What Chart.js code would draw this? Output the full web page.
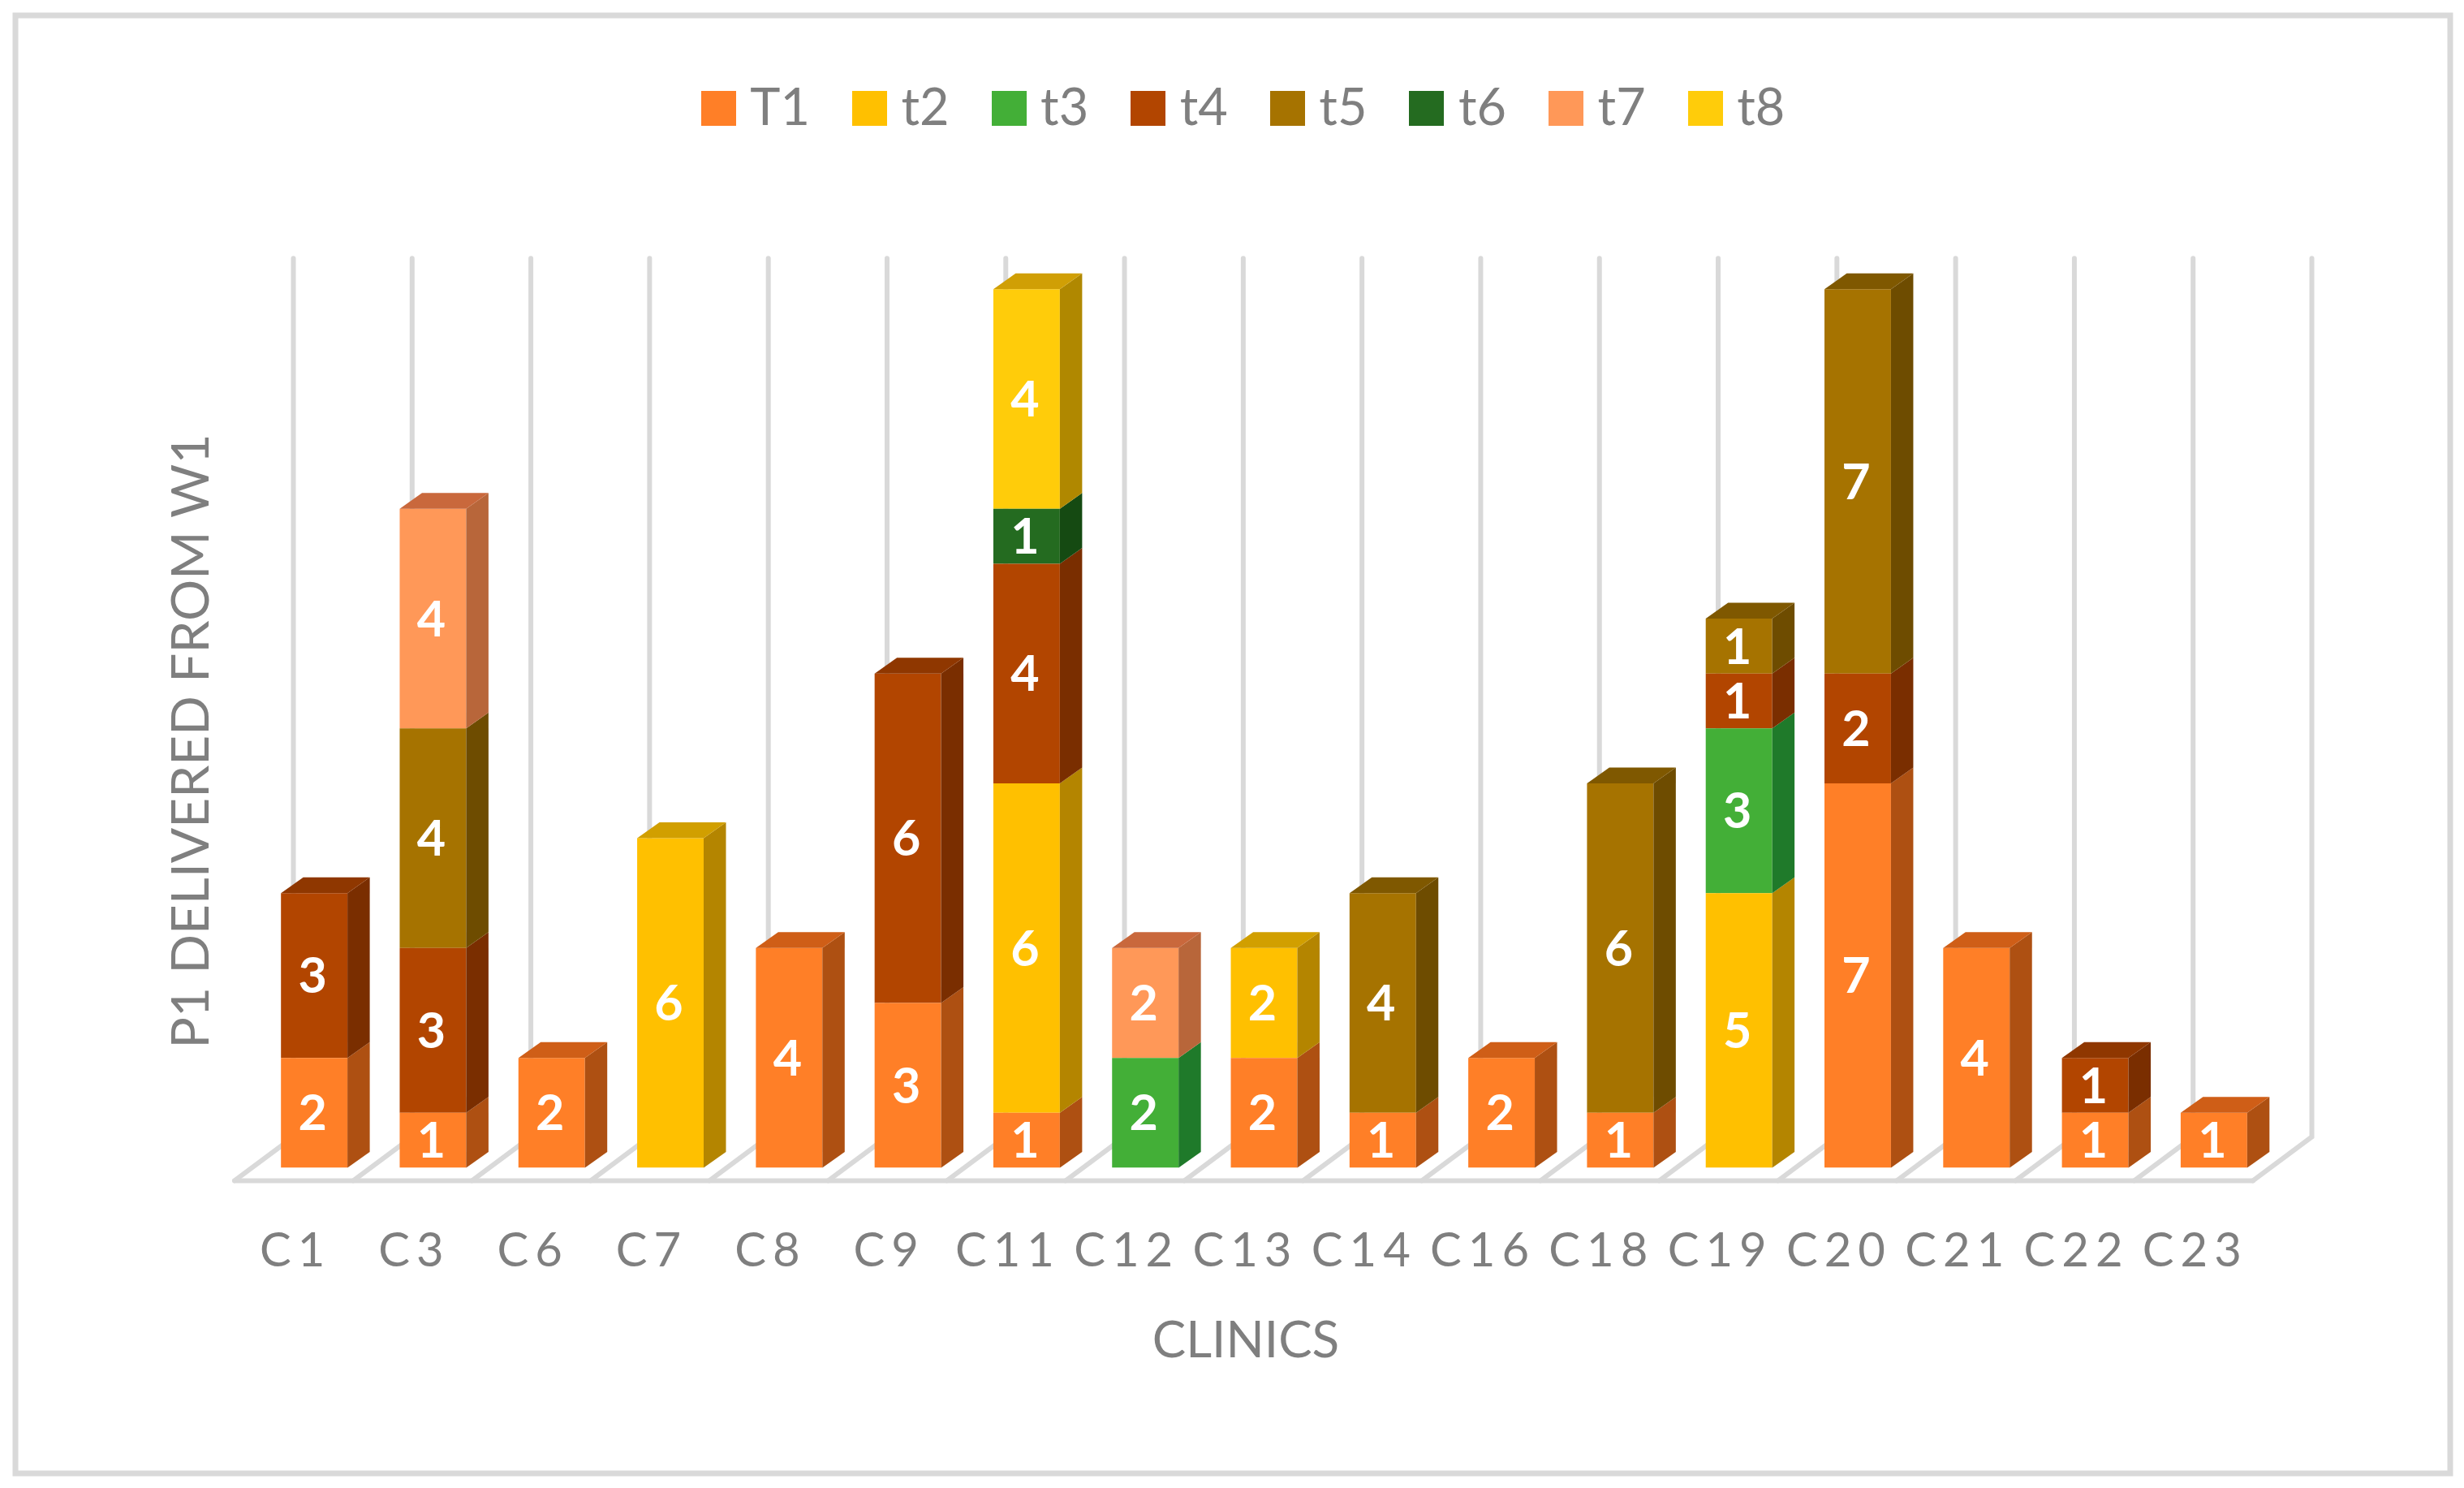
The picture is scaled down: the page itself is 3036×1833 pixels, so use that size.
<!DOCTYPE html>
<html lang="en">
<head>
    <meta charset="UTF-8">
    <title>P1 delivered from W1</title>
    <style>
        html, body { margin: 0; padding: 0; background: #fff; }
        canvas { display: block; }
    </style>
</head>
<body>
    <canvas id="grafico" width="3036" height="1833"></canvas>

    <script src="https://cdn.jsdelivr.net/npm/chart.js"></script>
    <script>
        const clinics = ['C1','C3','C6','C7','C8','C9','C11','C12','C13','C14','C16','C18','C19','C20','C21','C22','C23'];
        const seriesNames = ['T1','t2','t3','t4','t5','t6','t7','t8'];
        const t1 = [2,1,2,0,4,3,1,0,2,1,2,1,0,7,4,1,1];
        const t2 = [0,0,0,6,0,0,6,0,2,0,0,0,5,0,0,0,0];
        const t3 = [0,0,0,0,0,0,0,2,0,0,0,0,3,0,0,0,0];
        const t4 = [3,3,0,0,0,6,4,0,0,0,0,0,1,2,0,1,0];
        const t5 = [0,4,0,0,0,0,0,0,0,4,0,6,1,7,0,0,0];
        const t6 = [0,0,0,0,0,0,1,0,0,0,0,0,0,0,0,0,0];
        const t7 = [0,4,0,0,0,0,0,2,0,0,0,0,0,0,0,0,0];
        const t8 = [0,0,0,0,0,0,4,0,0,0,0,0,0,0,0,0,0];
        const seriesValues = [t1, t2, t3, t4, t5, t6, t7, t8];
        const faceColors = ['#FF7F27','#FFC000','#43AF37','#B24500','#A67300','#246B20','#FF9858','#FFCC0A'];
        const sideColors = ['#AE5012','#B48500','#1F7A2A','#7A2E00','#6E4C00','#154A12','#B8663A','#B08800'];
        const topColors  = ['#CF5E17','#D19F00','#2F8F30','#8F3700','#7F5800','#1A5516','#C9683C','#D09F05'];
        const yAxisTitle = 'P1 DELIVERED FROM W1';
        const xAxisTitle = 'CLINICS';

        const cinza = '#7F7F7F';
        const linha = '#D9D9D9';
        const fonte = 'Lato, sans-serif';
        const barDepth = { x: 27.5, y: 19.5 };

        // legend swatch as a small canvas, so text can sit closer than chart.js allows
        function amostra(cor) {
            const c = document.createElement('canvas');
            c.width = 43;
            c.height = 43;
            const g = c.getContext('2d');
            g.fillStyle = cor;
            g.fillRect(0, 0, 43, 43);
            return c;
        }

        const moldura = {
            id: 'moldura',
            beforeDraw(chart) {
                const ctx = chart.ctx;
                ctx.save();
                ctx.strokeStyle = linha;
                ctx.lineWidth = 7;
                ctx.strokeRect(19, 19, 3000, 1796);
                ctx.restore();
            },
            afterLayout(chart) {
                chart.legend.left -= 19;
                chart.legend.right -= 19;
            }
        };

        // back wall and floor lines, one for each category edge
        const piso = {
            id: 'piso',
            beforeDatasetsDraw(chart) {
                const { ctx, scales: { x, y } } = chart;
                const banda = x.getPixelForValue(1) - x.getPixelForValue(0);
                const baseY = y.getPixelForValue(0);
                const topoY = y.getPixelForValue(16);
                ctx.save();
                ctx.strokeStyle = linha;
                ctx.lineWidth = 6;
                ctx.lineCap = 'round';
                for (let i = 0; i <= clinics.length; i++) {
                    const borda = x.getPixelForValue(0) - banda / 2 + i * banda;
                    ctx.beginPath();
                    ctx.moveTo(borda + 47.5, topoY - 38);
                    ctx.lineTo(borda + 47.5, baseY - 38);
                    ctx.lineTo(borda - 25, baseY + 16);
                    ctx.stroke();
                }
                ctx.beginPath();
                ctx.moveTo(x.getPixelForValue(0) - banda / 2 - 25, baseY + 16);
                ctx.lineTo(x.getPixelForValue(clinics.length - 1) + banda / 2 - 25, baseY + 16);
                ctx.stroke();
                ctx.restore();
            }
        };

        // side and top faces of each bar, then the value labels
        const caixas = {
            id: 'caixas',
            afterDatasetsDraw(chart) {
                const ctx = chart.ctx;
                const topoPorBarra = {};
                ctx.save();
                chart.data.datasets.forEach((ds, d) => {
                    chart.getDatasetMeta(d).data.forEach((bar, i) => {
                        if (!ds.data[i]) return;
                        const dir = bar.x + bar.width / 2;
                        ctx.fillStyle = sideColors[d];
                        ctx.beginPath();
                        ctx.moveTo(dir, bar.y);
                        ctx.lineTo(dir + barDepth.x, bar.y - barDepth.y);
                        ctx.lineTo(dir + barDepth.x, bar.base - barDepth.y);
                        ctx.lineTo(dir, bar.base);
                        ctx.closePath();
                        ctx.fill();
                        topoPorBarra[i] = { bar, d };
                    });
                });
                Object.values(topoPorBarra).forEach(({ bar, d }) => {
                    const esq = bar.x - bar.width / 2;
                    const dir = bar.x + bar.width / 2;
                    ctx.fillStyle = topColors[d];
                    ctx.beginPath();
                    ctx.moveTo(esq, bar.y);
                    ctx.lineTo(esq + barDepth.x, bar.y - barDepth.y);
                    ctx.lineTo(dir + barDepth.x, bar.y - barDepth.y);
                    ctx.lineTo(dir, bar.y);
                    ctx.closePath();
                    ctx.fill();
                });
                ctx.fillStyle = '#fff';
                ctx.font = 'bold 61px ' + fonte;
                ctx.textAlign = 'center';
                ctx.textBaseline = 'middle';
                chart.data.datasets.forEach((ds, d) => {
                    chart.getDatasetMeta(d).data.forEach((bar, i) => {
                        if (!ds.data[i]) return;
                        ctx.fillText(ds.data[i], bar.x - 2, (bar.y + bar.base) / 2 + 2);
                    });
                });
                ctx.restore();
            }
        };

        const titulos = {
            id: 'titulos',
            afterDraw(chart) {
                const ctx = chart.ctx;
                ctx.save();
                ctx.fillStyle = cinza;
                ctx.textAlign = 'center';
                ctx.textBaseline = 'middle';
                ctx.font = '62px ' + fonte;
                ctx.fillText(xAxisTitle, 1535, 1652);
                ctx.font = '64px ' + fonte;
                ctx.translate(236, 913);
                ctx.rotate(-Math.PI / 2);
                ctx.fillText(yAxisTitle, 0, 0);
                ctx.restore();
            }
        };

        new Chart(document.getElementById('grafico'), {
            type: 'bar',
            data: {
                labels: clinics,
                datasets: seriesNames.map((name, d) => ({
                    label: name,
                    data: seriesValues[d],
                    backgroundColor: faceColors[d],
                    borderWidth: 0,
                    barPercentage: 0.56,
                    categoryPercentage: 1
                }))
            },
            options: {
                responsive: false,
                devicePixelRatio: 1,
                animation: false,
                layout: { padding: { left: 314, right: 235, top: 36, bottom: 197 } },
                plugins: {
                    tooltip: { enabled: false },
                    legend: {
                        position: 'top',
                        labels: {
                            usePointStyle: true,
                            pointStyleWidth: 15,
                            boxHeight: 43,
                            padding: 66,
                            color: cinza,
                            font: { family: fonte, size: 63 },
                            generateLabels(chart) {
                                return Chart.defaults.plugins.legend.labels.generateLabels(chart).map((item, d) => {
                                    item.pointStyle = amostra(faceColors[d]);
                                    return item;
                                });
                            }
                        }
                    }
                },
                scales: {
                    x: {
                        stacked: true,
                        grid: { display: false },
                        border: { display: false },
                        ticks: {
                            color: cinza,
                            padding: 60,
                            labelOffset: -23,
                            maxRotation: 0,
                            autoSkip: false,
                            font: { family: fonte, size: 58 }
                        },
                        // axis labels are letter-spaced in the original
                        afterFit(scale) {
                            if (scale.spaced) return;
                            const draw = scale.drawLabels;
                            scale.drawLabels = function (area) {
                                this.ctx.letterSpacing = '8px';
                                draw.call(this, area);
                                this.ctx.letterSpacing = '0px';
                            };
                            scale.spaced = true;
                        }
                    },
                    y: {
                        stacked: true,
                        display: false,
                        min: 0,
                        max: 18.68
                    }
                }
            },
            plugins: [moldura, piso, caixas, titulos]
        });
    </script>
</body>
</html>
